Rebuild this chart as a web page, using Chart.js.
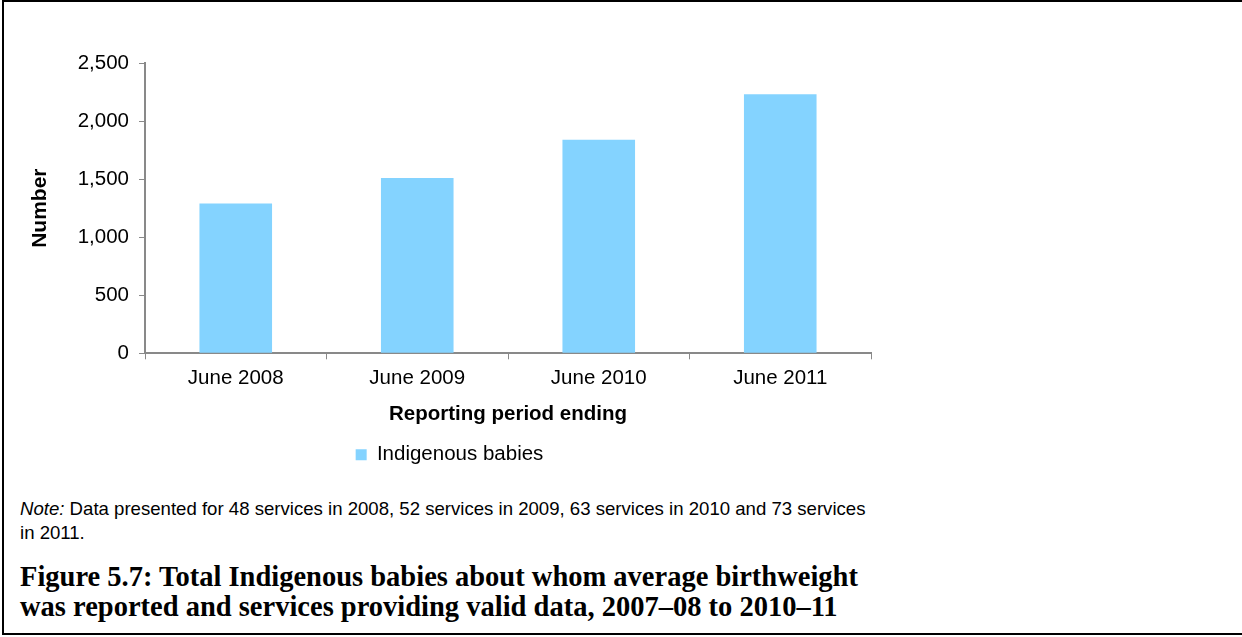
<!DOCTYPE html>
<html lang="en">
<head>
    <meta charset="UTF-8">
    <title>Figure 5.7</title>
    <script src="https://cdn.jsdelivr.net/npm/chart.js"></script>
    <style>
        body {
            margin: 0;
            background: #fff;
            font-family: 'Liberation Sans', Arial, sans-serif;
        }

        .frame {
            position: absolute;
            left: 2px;
            top: 0;
            width: 1240px;
            height: 635px;
            border-top: 2px solid #000;
            border-left: 2px solid #000;
            border-bottom: 2px solid #000;
            box-sizing: border-box;
        }

        .chart-box {
            position: absolute;
            left: 0;
            top: 0;
            width: 922px;
            height: 477px;
        }

        .note {
            position: absolute;
            left: 20px;
            top: 497px;
            width: 855px;
            font-size: 18.6px;
            line-height: 24px;
            color: #000;
        }

        .caption {
            position: absolute;
            left: 20px;
            top: 562px;
            width: 920px;
            font-family: 'Liberation Serif', 'DejaVu Serif', serif;
            font-weight: bold;
            font-size: 28.5px;
            line-height: 30px;
            color: #000;
        }
    </style>
</head>
<body>
    <div class="frame"></div>
    <div class="chart-box"><canvas id="birthChart"></canvas></div>
    <div class="note"><i>Note:</i> Data presented for 48 services in 2008, 52 services in 2009, 63 services in 2010 and 73 services in 2011.</div>
    <div class="caption">Figure 5.7: Total Indigenous babies about whom average birthweight<br>was reported and services providing valid data, 2007–08 to 2010–11</div>

    <script>
        // data
        const periods = ['June 2008', 'June 2009', 'June 2010', 'June 2011'];
        const babies = [1290, 1510, 1840, 2230];
        const seriesName = 'Indigenous babies';

        const axisGrey = '#898989';
        const sans = "'Liberation Sans', Arial, sans-serif";
        const tickFont = { family: sans, size: 20.5 };

        const ctx = document.getElementById('birthChart').getContext('2d');
        new Chart(ctx, {
            type: 'bar',
            data: {
                labels: periods,
                datasets: [{
                    label: seriesName,
                    data: babies,
                    backgroundColor: '#84D3FF',
                    categoryPercentage: 1,
                    barPercentage: 0.4
                }]
            },
            options: {
                responsive: true,
                maintainAspectRatio: false,
                animation: false,
                layout: { padding: { top: 63, right: 51, left: 28, bottom: 2 } },
                plugins: {
                    tooltip: { enabled: false },
                    legend: {
                        position: 'bottom',
                        labels: {
                            boxWidth: 11,
                            boxHeight: 11,
                            padding: 12,
                            color: '#000',
                            font: tickFont
                        }
                    }
                },
                scales: {
                    x: {
                        offset: true,
                        grid: {
                            offset: true,
                            drawOnChartArea: false,
                            drawTicks: true,
                            tickLength: 6,
                            color: axisGrey
                        },
                        border: { color: axisGrey, width: 2 },
                        ticks: { color: '#000', font: tickFont, padding: 7 },
                        title: {
                            display: true,
                            text: 'Reporting period ending',
                            color: '#000',
                            font: { family: sans, size: 20.5, weight: 'bold' },
                            padding: { top: 4, bottom: 6 }
                        }
                    },
                    y: {
                        min: 0,
                        max: 2500,
                        grid: {
                            drawOnChartArea: false,
                            drawTicks: true,
                            tickLength: 6,
                            color: axisGrey
                        },
                        border: { color: axisGrey, width: 2 },
                        ticks: {
                            stepSize: 500,
                            color: '#000',
                            font: tickFont,
                            padding: 10,
                            callback: (v) => v.toLocaleString('en-US')
                        },
                        title: {
                            display: true,
                            text: 'Number',
                            color: '#000',
                            font: { family: sans, size: 21, weight: 'bold' },
                            padding: { top: 0, bottom: 0 }
                        },
                        afterFit: (scale) => { scale.width = 145 - 28; }
                    }
                }
            }
        });
    </script>
</body>
</html>
